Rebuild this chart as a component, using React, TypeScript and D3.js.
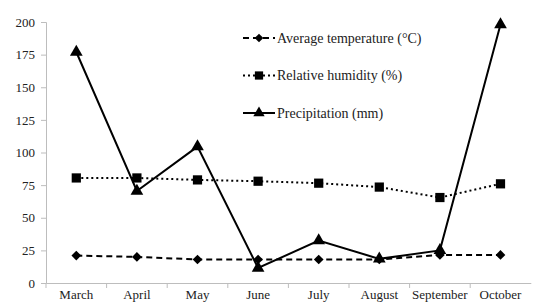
import React, { useRef, useEffect } from 'react';
import * as d3 from 'd3';

const months = ['March', 'April', 'May', 'June', 'July', 'August', 'September', 'October'];
const temperature = [21, 20, 18, 18, 18, 18, 21.5, 21.5];
const humidity = [80.5, 80.5, 79, 78, 76.5, 73.5, 65.5, 76];
const precipitation = [177, 70.5, 104.5, 11.5, 32.5, 18.5, 25, 198];
const yTicks = [0, 25, 50, 75, 100, 125, 150, 175, 200];

const series = [
  { name: 'Average temperature (°C)', values: temperature, dash: '6,4', symbol: d3.symbolDiamond2, size: 60 },
  { name: 'Relative humidity (%)', values: humidity, dash: '2,3', symbol: d3.symbolSquare, size: 85 },
  { name: 'Precipitation (mm)', values: precipitation, dash: null, symbol: d3.symbolTriangle, size: 70 },
];

const App: React.FC = () => {
  const ref = useRef<SVGSVGElement | null>(null);

  useEffect(() => {
    if (!ref.current) return;
    const svg = d3.select(ref.current);
    svg.selectAll('*').remove();
    const height = 305;
    const margin = { top: 22, bottom: 22, left: 46 };
    const font = "'Times New Roman', 'Liberation Serif', 'DejaVu Serif', serif";

    const x = d3
      .scaleBand<string>()
      .domain(months)
      .range([margin.left, margin.left + 8 * 60.6]);
    const y = d3
      .scaleLinear()
      .domain([0, 200])
      .range([height - margin.bottom, margin.top]);

    // axes
    const xAxis = svg
      .append('g')
      .attr('transform', `translate(0,${y(0)})`)
      .call(d3.axisBottom(x).tickSize(0).tickPadding(7));
    xAxis.attr('font-family', null);
    xAxis.select('.domain').attr('stroke', '#bdbdbd');
    xAxis
      .selectAll('.tick text')
      .style('font-family', font)
      .style('font-size', '13px')
      .attr('fill', '#222');
    // boundary ticks
    svg
      .append('g')
      .selectAll('line')
      .data(months)
      .join('line')
      .attr('x1', (d) => x(d)!)
      .attr('x2', (d) => x(d)!)
      .attr('y1', y(0))
      .attr('y2', y(0) + 5)
      .attr('stroke', '#bdbdbd');

    const yAxis = svg
      .append('g')
      .attr('transform', `translate(${margin.left},0)`)
      .call(d3.axisLeft(y).tickValues(yTicks).tickSize(5).tickPadding(6));
    yAxis.attr('font-family', null);
    yAxis.select('.domain').attr('stroke', '#bdbdbd');
    yAxis.selectAll('.tick line').attr('stroke', '#bdbdbd');
    yAxis
      .selectAll('.tick text')
      .style('font-family', font)
      .style('font-size', '13px')
      .attr('fill', '#222');

    const cx = (i: number) => x(months[i])! + x.bandwidth() / 2;

    series.forEach((s) => {
      const line = d3
        .line<number>()
        .x((_, i) => cx(i))
        .y((d) => y(d));
      svg
        .append('path')
        .datum(s.values)
        .attr('fill', 'none')
        .attr('stroke', '#000')
        .attr('stroke-width', 2)
        .attr('stroke-dasharray', s.dash)
        .attr('d', line);
      svg
        .append('g')
        .selectAll('path')
        .data(s.values)
        .join('path')
        .attr('transform', (d, i) => `translate(${cx(i)},${y(d)})`)
        .attr('d', d3.symbol().type(s.symbol).size(s.size)())
        .attr('fill', '#000');
    });

    // legend
    const legend = svg.append('g').attr('transform', 'translate(243,38)');
    series.forEach((s, i) => {
      const g = legend.append('g').attr('transform', `translate(0,${i * 37.5})`);
      g.append('line')
        .attr('x1', 0)
        .attr('x2', 32)
        .attr('stroke', '#000')
        .attr('stroke-width', 2)
        .attr('stroke-dasharray', s.dash);
      g.append('path')
        .attr('transform', 'translate(16,0)')
        .attr('d', d3.symbol().type(s.symbol).size(s.size * 0.8)())
        .attr('fill', '#000');
      g.append('text')
        .attr('x', 34)
        .attr('dy', '0.35em')
        .style('font-family', font)
        .style('font-size', '14px')
        .attr('fill', '#222')
        .text(s.name);
    });
  }, []);

  return (
    <svg
      ref={ref}
      width={536}
      height={305}
      style={{ position: 'absolute', left: 0, top: 0, background: '#fff', fontFamily: 'serif' }}
    />
  );
};

export default App;
